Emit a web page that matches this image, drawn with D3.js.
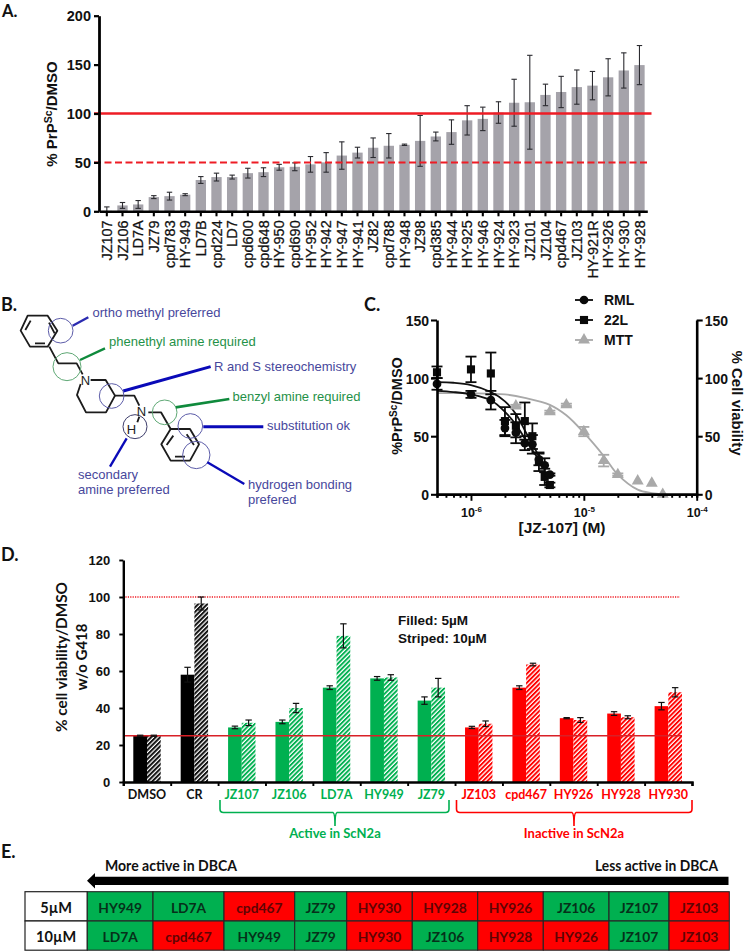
<!DOCTYPE html>
<html><head><meta charset="utf-8">
<script src="https://cdn.jsdelivr.net/npm/d3@7"></script>
<style>
html,body{margin:0;padding:0;background:#fff}
svg{display:block}
text{font-family:"Liberation Sans",Arial,sans-serif}
.cal{font-family:Lato,"Open Sans",sans-serif}
</style></head><body>
<svg id="c" width="745" height="951"></svg>
<script>
// Panel A
const aNames=["JZ107","JZ106","LD7A","JZ79","cpd783","HY-949","LD7B","cpd224","LD7","cpd600","cpd648","HY-950","cpd690","HY-952","HY-942","HY-947","HY-941","JZ82","cpd788","HY-948","JZ98","cpd385","HY-944","HY-925","HY-946","HY-924","HY-923","JZ101","JZ104","cpd467","JZ103","HY-921R","HY-926","HY-930","HY-928"];
const aValues=[0.5,6,7,14.5,15.5,17,32,35,35,39,40,45,45.5,48,50,57,60,65,67,68,72,76.5,81,93,94.5,101,111,111.5,119,122,127,128.5,137,144,149.5];
const aErrors=[4,3,4,1.5,4,1,3.5,4,2,5,4.5,3,4,8,10,14,5.5,10,12.5,0.7,26,4.5,12.5,15,12,11,24,48,11,16,17.5,14.5,19,18,20];
const aTicks=[0,50,100,150,200];
// Panel C
const cConc=[5e-7,1e-6,1.5e-6,2e-6,2.5e-6,3e-6,3.5e-6,4e-6,4.5e-6,5e-6];
const rmlValues=[95,86,81,57,53,44,43,30,25,17];
const rmlErrors=[5,3,8,7,9,6,8,5,6,1];
const l22Values=[105,107.5,104,63,59,63,50,28,15,8];
const l22Errors=[5,11,18,12,10,16,11,8,7,2];
const mttConc=[2.5e-6,5e-6,7e-6,1e-5,1.5e-5,2e-5,3e-5,4e-5,5e-5];
const mttValues=[76,71,77,54,29,17,11.5,9.5,0];
const mttErrors=[1,1,1,4,5,1,0,0,0];
const rmlFitX=[5e-7,7e-7,1e-6,1.5e-6,2e-6,2.5e-6,3e-6,3.5e-6,4e-6];
const rmlFitY=[89,88,86,81,71,60,48,38,30];
const l22FitX=[5e-7,7e-7,1e-6,1.5e-6,2e-6,2.5e-6,3e-6,3.5e-6,4e-6];
const l22FitY=[96.5,96,94,88,80,69,55,43,33];
const mttFitX=[5e-7,1e-6,2e-6,3e-6,5e-6,7e-6,1e-5,1.5e-5,2e-5,3e-5,4e-5,5e-5];
const mttFitY=[87,87,86,83,77,68,53,33,17,4,1,0];
const cTicks=[0,50,100,150];
const cLegend=["RML","22L","MTT"];
// Panel D
const dNames=["DMSO","CR","JZ107","JZ106","LD7A","HY949","JZ79","JZ103","cpd467","HY926","HY928","HY930"];
const dFilled=[25,58,29.5,32.5,51,56,44,29.5,51,34.5,37,41];
const dFilledErr=[0.3,4,0.7,1,1,1,2,0.6,1,0.3,1,2];
const dStriped=[25,96.5,32,40,79,56.5,51,31.5,63.5,33.5,35,48.5];
const dStripedErr=[0.3,3.5,1.5,2.5,6.5,1.5,5,1.5,0.7,1.3,0.8,2.5];
const dGroups=["k","k","g","g","g","g","g","r","r","r","r","r"];
const dTicks=[0,20,40,60,80,100,120];
// Panel E
const eRows=["5µM","10µM"];
const eRow5=["HY949","LD7A","cpd467","JZ79","HY930","HY928","HY926","JZ106","JZ107","JZ103"];
const eRow10=["LD7A","cpd467","HY949","JZ79","HY930","JZ106","HY928","HY926","JZ107","JZ103"];
const eActive=["HY949","LD7A","JZ79","JZ106","JZ107"];

const GREEN="#00b050",RED="#ff0000";
const svg=d3.select("#c");
const defs=svg.append("defs");
[["k","#111"],["g",GREEN],["r",RED]].forEach(([id,col])=>{
  const p=defs.append("pattern").attr("id","h"+id).attr("patternUnits","userSpaceOnUse").attr("width",3.2).attr("height",3.2).attr("patternTransform","rotate(-45)");
  p.append("rect").attr("width",3.2).attr("height",3.2).attr("fill","#fff");
  p.append("rect").attr("width",3.2).attr("height",id==="k"?2.0:1.9).attr("fill",col);
});
function panel(t,x,y,fs){svg.append("text").attr("class","cal").attr("x",x).attr("y",y).attr("font-size",fs||18).attr("font-weight",700).attr("fill","#111").text(t);}
panel("A.",2,17,16.5);panel("B.",1,311);panel("C.",364,311);panel("D.",1,561);panel("E.",1,858);
function styleAxis(g,w,fs,weight,cls){
  g.selectAll("path.domain").attr("stroke","#000").attr("stroke-width",w);
  g.selectAll(".tick line").attr("stroke","#000").attr("stroke-width",w*0.8);
  g.selectAll("text").attr("fill","#111").attr("font-size",fs).attr("font-weight",weight).attr("font-family",cls?"Lato,'Open Sans',sans-serif":"'Liberation Sans',Arial,sans-serif");
}
// ===== A
{
  const x=d3.scaleBand().domain(aNames).range([99,647.3]).paddingInner(0.34).paddingOuter(0.17);
  const y=d3.scaleLinear().domain([0,200]).range([211.3,15.7]);
  svg.append("g").selectAll("rect").data(aNames).join("rect")
    .attr("x",d=>x(d)).attr("width",x.bandwidth()).attr("y",(d,i)=>y(aValues[i])).attr("height",(d,i)=>y(0)-y(aValues[i])).attr("fill","#a5a3aa");
  const e=svg.append("g").attr("stroke","#2b2b30").attr("stroke-width",1.1);
  aNames.forEach((n,i)=>{
    const c=x(n)+x.bandwidth()/2,lo=Math.max(0,aValues[i]-aErrors[i]),hi=aValues[i]+aErrors[i];
    e.append("line").attr("x1",c).attr("x2",c).attr("y1",y(lo)).attr("y2",y(hi));
    e.append("line").attr("x1",c-2.7).attr("x2",c+2.7).attr("y1",y(hi)).attr("y2",y(hi));
    if(aValues[i]-aErrors[i]>0)e.append("line").attr("x1",c-2.7).attr("x2",c+2.7).attr("y1",y(lo)).attr("y2",y(lo));
  });
  svg.append("line").attr("x1",94).attr("x2",651.5).attr("y1",y(100)).attr("y2",y(100)).attr("stroke","#ee1c25").attr("stroke-width",2.4);
  svg.append("line").attr("x1",94).attr("x2",650).attr("y1",y(50)).attr("y2",y(50)).attr("stroke","#ee1c25").attr("stroke-width",2).attr("stroke-dasharray","7 3.5");
  const gx=svg.append("g").attr("transform",`translate(0,${y(0)})`).call(d3.axisBottom(x).tickSize(5).tickSizeOuter(0));
  styleAxis(gx,2.6,14.5,400);
  gx.selectAll("text").attr("transform","rotate(-90)").attr("text-anchor","end").attr("x",-9).attr("y",0).attr("dy","0.36em").attr("stroke","#111").attr("stroke-width",0.25);
  const gy=svg.append("g").attr("transform","translate(99,0)").call(d3.axisLeft(y).tickValues(aTicks).tickSize(5).tickSizeOuter(0));
  styleAxis(gy,2.8,14.5,700);
  gy.selectAll("text").attr("x",-8).attr("dy","0.36em");
  const t=svg.append("text").attr("transform","translate(57,114) rotate(-90)").attr("text-anchor","middle").attr("font-size",15).attr("font-weight",700).attr("fill","#111");
  t.append("tspan").text("% PrP");t.append("tspan").attr("dy",-5).attr("font-size",10.5).text("Sc");t.append("tspan").attr("dy",5).text("/DMSO");
}
// ===== B
{
  const g=svg.append("g").attr("transform","translate(0,285) scale(0.3333)").attr("fill","none");
  const bond=d=>g.append("path").attr("d",d).attr("stroke","#1c1c1c").attr("stroke-width",5.5).attr("stroke-linejoin","round");
  bond("M83 92L143 92L172 137L143 185L90 185L62 137Z");
  bond("M92 107L76 135M105 175L135 175M147 113L164 145");
  bond("M148 185L175 235L230 235L248 268");
  bond("M242 297L231 330L258 382L318 382L345 332L317 285L272 285");
  bond("M345 332L403 332L418 362");
  bond("M445 382L483 382L512 432");
  bond("M418 395L412 412");
  bond("M512 432L570 432L597 478L570 527L512 527L484 478Z");
  bond("M520 452L500 480M525 515L555 515M560 448L582 480");
  const circ=(x,y,r,c)=>g.append("circle").attr("cx",x).attr("cy",y).attr("r",r).attr("stroke",c).attr("stroke-width",3);
  circ(182,137,37,"#5b5ba8");circ(201,245,42,"#5ea874");circ(335,333,37,"#5b5ba8");circ(494,382,37,"#5ea874");circ(571,423,37,"#5b5ba8");circ(589,510,41,"#5b5ba8");circ(405,425,36,"#3d3d6a");
  const con=(d,c,w)=>g.append("path").attr("d",d).attr("stroke",c).attr("stroke-width",w);
  con("M218 122L265 97","#2a2ab0",7);
  con("M240 225L315 190","#0f8a3c",7);
  con("M370 318L632 245","#0a0ab8",9);
  con("M527 367L688 342","#0f8a3c",8);
  con("M610 425L790 425","#0a0ab8",9);
  con("M622 532L733 597","#0a0ab8",7);
  con("M380 460L330 545","#0a0ab8",7);
  const lab=(x,y,s,c)=>svg.append("text").attr("x",x).attr("y",y).attr("font-size",13).attr("fill",c).text(s);
  const BL="#47479c",GR="#1f9148";
  lab(92.5,317,"ortho methyl preferred",BL);
  lab(109,346,"phenethyl amine required",GR);
  lab(214,371,"R and S stereochemistry",BL);
  lab(232.5,401,"benzyl amine required",GR);
  lab(267,430,"substitution ok",BL);
  lab(78,479,"secondary",BL);
  lab(78,494,"amine preferred",BL);
  lab(248,489,"hydrogen bonding",BL);
  lab(248,504,"prefered",BL);
  const at=(x,y,s,fs)=>svg.append("text").attr("x",x).attr("y",y).attr("text-anchor","middle").attr("font-size",fs).attr("fill","#222").text(s);
  at(85.5,385,"N",13);at(141.5,416,"N",13);at(131.5,434,"H",13);
}
// ===== C
{
  const x=d3.scaleLog().domain([5e-7,1e-4]).range([437,696.7]);
  const y=d3.scaleLinear().domain([0,150]).range([494.3,320]);
  const line=d3.line().curve(d3.curveCatmullRom).x(d=>x(d[0])).y(d=>y(d[1]));
  const zip=(a,b)=>a.map((v,i)=>[v,b[i]]);
  const fit=(a,b,c,w)=>svg.append("path").attr("d",line(zip(a,b))).attr("fill","none").attr("stroke",c).attr("stroke-width",w);
  fit(mttFitX,mttFitY,"#a9a9a9",1.8);
  fit(rmlFitX,rmlFitY,"#111",1.8);
  fit(l22FitX,l22FitY,"#111",1.8);
  const sym={c:d3.symbol(d3.symbolCircle,60)(),s:d3.symbol(d3.symbolSquare,66)(),t:d3.symbol(d3.symbolTriangle,62)()};
  const series=(xs,vs,es,c,s)=>{
    const g=svg.append("g");
    xs.forEach((v,i)=>{
      const px=x(v);
      if(es[i]>0){
        g.append("line").attr("x1",px).attr("x2",px).attr("y1",y(vs[i]-es[i])).attr("y2",y(vs[i]+es[i])).attr("stroke",c).attr("stroke-width",1.8);
        [vs[i]-es[i],vs[i]+es[i]].forEach(q=>g.append("line").attr("x1",px-5.5).attr("x2",px+5.5).attr("y1",y(q)).attr("y2",y(q)).attr("stroke",c).attr("stroke-width",1.8));
      }
      g.append("path").attr("d",s).attr("transform",`translate(${px},${y(vs[i])})`).attr("fill",c);
    });
  };
  series(mttConc,mttValues,mttErrors,"#a9a9a9",sym.t);
  series(cConc,l22Values,l22Errors,"#0a0a0a",sym.s);
  series(cConc,rmlValues,rmlErrors,"#0a0a0a",sym.c);
  const minor=[];for(let d=-7;d<-4;d++)for(let m=1;m<10;m++){const v=m*Math.pow(10,d);if(v>=5e-7&&v<=1e-4&&m!==1)minor.push(v);}
  const gm=svg.append("g").attr("transform",`translate(0,${y(0)})`).call(d3.axisBottom(x).tickValues(minor).tickSize(3.5).tickFormat(""));
  styleAxis(gm,2.4,12,700);
  const majors=[1e-6,1e-5,1e-4];
  const gx=svg.append("g").attr("transform",`translate(0,${y(0)})`).call(d3.axisBottom(x).tickValues(majors).tickSize(6.5).tickSizeOuter(0).tickFormat(""));
  styleAxis(gx,2.4,12,700);
  gx.selectAll(".tick").append("text").attr("y",23).attr("text-anchor","middle").attr("fill","#111").attr("font-size",12.5).attr("font-weight",700)
    .each(function(d){const t=d3.select(this);t.append("tspan").text("10");t.append("tspan").attr("dy",-5).attr("font-size",8).text("-"+Math.round(-Math.log10(d)));});
  const gl=svg.append("g").attr("transform","translate(437,0)").call(d3.axisLeft(y).tickValues(cTicks).tickSize(6).tickSizeOuter(0));
  styleAxis(gl,2.6,14,700);gl.selectAll("text").attr("x",-8).attr("dy","0.36em");
  const gr=svg.append("g").attr("transform","translate(696.7,0)").call(d3.axisRight(y).tickValues(cTicks).tickSize(6).tickSizeOuter(0));
  styleAxis(gr,2.6,14,700);gr.selectAll("text").attr("x",8).attr("dy","0.36em");
  const t=svg.append("text").attr("transform","translate(402,406) rotate(-90)").attr("text-anchor","middle").attr("font-size",14.5).attr("font-weight",700).attr("fill","#111");
  t.append("tspan").text("%PrP");t.append("tspan").attr("dy",-5).attr("font-size",10).text("Sc");t.append("tspan").attr("dy",5).text("/DMSO");
  svg.append("text").attr("transform","translate(732,403) rotate(90)").attr("text-anchor","middle").attr("font-size",15).attr("font-weight",700).attr("fill","#111").text("% Cell viability");
  svg.append("text").attr("x",562).attr("y",533).attr("text-anchor","middle").attr("font-size",15.5).attr("font-weight",700).attr("fill","#111").text("[JZ-107] (M)");
  const ly=d3.scalePoint().domain(cLegend).range([300,340]);
  const cols=["#0a0a0a","#0a0a0a","#a9a9a9"],sy=[sym.c,sym.s,sym.t];
  cLegend.forEach((n,i)=>{
    svg.append("line").attr("x1",575).attr("x2",593).attr("y1",ly(n)).attr("y2",ly(n)).attr("stroke",cols[i]).attr("stroke-width",1.8);
    svg.append("path").attr("d",sy[i]).attr("transform",`translate(584,${ly(n)})`).attr("fill",cols[i]);
    svg.append("text").attr("x",604).attr("y",ly(n)+5).attr("font-size",14).attr("font-weight",700).attr("fill","#111").text(n);
  });
}
// ===== D
{
  const x0=d3.scaleBand().domain(dNames).range([123.3,692]);
  const y=d3.scaleLinear().domain([0,120]).range([782,560]);
  const bw=13.7;
  const col={k:"#000",g:GREEN,r:RED};
  dNames.forEach((n,i)=>{
    const c=x0(n)+x0.bandwidth()/2,gk=dGroups[i];
    svg.append("rect").attr("x",c-bw).attr("width",bw).attr("y",y(dFilled[i])).attr("height",y(0)-y(dFilled[i])).attr("fill",col[gk]);
    svg.append("rect").attr("x",c).attr("width",bw).attr("y",y(dStriped[i])).attr("height",y(0)-y(dStriped[i])).attr("fill",`url(#h${gk})`);
  });
  svg.append("line").attr("x1",123).attr("x2",681.5).attr("y1",y(25)).attr("y2",y(25)).attr("stroke","#d92027").attr("stroke-width",1.5);
  svg.append("line").attr("x1",123).attr("x2",680).attr("y1",y(100)).attr("y2",y(100)).attr("stroke","#f01a22").attr("stroke-width",1.3).attr("stroke-dasharray","1.2 1.2");
  dNames.forEach((n,i)=>{
    const c=x0(n)+x0.bandwidth()/2;
    [[c-bw/2,dFilled[i],dFilledErr[i]],[c+bw/2,dStriped[i],dStripedErr[i]]].forEach(([px,v,er])=>{
      const g=svg.append("g").attr("stroke","#111").attr("stroke-width",1.2);
      g.append("line").attr("x1",px).attr("x2",px).attr("y1",y(v-er)).attr("y2",y(v+er));
      [v-er,v+er].forEach(q=>g.append("line").attr("x1",px-3.2).attr("x2",px+3.2).attr("y1",y(q)).attr("y2",y(q)));
    });
  });
  const gx=svg.append("g").attr("transform",`translate(0,${y(0)})`).call(d3.axisBottom(d3.scaleLinear().domain([0,12]).range([123.3,692])).ticks(12).tickSize(4).tickFormat(""));
  styleAxis(gx,2.4,12,700,true);
  const gy=svg.append("g").attr("transform","translate(123.3,0)").call(d3.axisLeft(y).tickValues(dTicks).tickSize(4).tickSizeOuter(0));
  styleAxis(gy,2.4,13,700,true);gy.selectAll("text").attr("x",-13).attr("dy","0.36em");
  const tcol={k:"#111",g:GREEN,r:RED};
  svg.append("g").selectAll("text").data(dNames).join("text").attr("class","cal")
    .attr("x",d=>x0(d)+x0.bandwidth()/2).attr("y",799).attr("text-anchor","middle").attr("font-size",12.5).attr("font-weight",700)
    .attr("fill",(d,i)=>tcol[dGroups[i]]).text(d=>d);
  [["% cell viability/DMSO",67,150],["w/o G418",87,67]].forEach(([s,bx,len])=>{
    svg.append("text").attr("class","cal").attr("transform",`translate(${bx},657) rotate(-90)`).attr("text-anchor","middle").attr("font-size",15.5).attr("font-weight",700).attr("fill","#111").attr("textLength",len).attr("lengthAdjust","spacingAndGlyphs").text(s);
  });
  svg.append("text").attr("x",398).attr("y",625).attr("font-size",13.5).attr("font-weight",700).attr("fill","#111").text("Filled: 5µM");
  svg.append("text").attr("x",398).attr("y",643).attr("font-size",13.5).attr("font-weight",700).attr("fill","#111").text("Striped: 10µM");
  const brace=(a,b,s,c,txt)=>{
    svg.append("path").attr("d",`M${a} 800L${a} 809Q${a} 812.5 ${a+3.5} 812.5L${s-2} 812.5Q${s} 813 ${s} 826Q${s} 813 ${s+2} 812.5L${b-3.5} 812.5Q${b} 812.5 ${b} 809L${b} 800`).attr("fill","none").attr("stroke",c).attr("stroke-width",1.6);
    svg.append("text").attr("class","cal").attr("x",s).attr("y",838).attr("text-anchor","middle").attr("font-size",13).attr("font-weight",700).attr("fill",c).text(txt);
  };
  brace(220,449,335,GREEN,"Active in ScN2a");
  brace(456.5,692,574,RED,"Inactive in ScN2a");
}
// ===== E
{
  const edges=[87.3,153,224,294.7,346.7,412.3,477.7,543.3,609,669,729.3];
  const tops=[891.7,921],h=29.2;
  const txt=(x,y,s,c,fs)=>svg.append("text").attr("class","cal").attr("x",x).attr("y",y).attr("text-anchor","middle").attr("font-size",fs).attr("font-weight",700).attr("fill",c).text(s);
  [eRow5,eRow10].forEach((row,r)=>{
    svg.append("rect").attr("x",25).attr("y",tops[r]).attr("width",edges[0]-25).attr("height",h).attr("fill","#fff").attr("stroke","#222").attr("stroke-width",1.2);
    txt((25+edges[0])/2,tops[r]+21,eRows[r],"#111",14.5);
    row.forEach((n,i)=>{
      const on=eActive.includes(n);
      svg.append("rect").attr("x",edges[i]).attr("y",tops[r]).attr("width",edges[i+1]-edges[i]).attr("height",h).attr("fill",on?GREEN:RED).attr("stroke","#262626").attr("stroke-width",1.1);
      txt((edges[i]+edges[i+1])/2,tops[r]+21,n,on?"#06301a":"#5f0404",13.8);
    });
  });
  const head=(x,a,s)=>svg.append("text").attr("class","cal").attr("x",x).attr("y",871).attr("text-anchor",a).attr("font-size",15).attr("font-weight",700).attr("fill","#111").attr("textLength",s==="L"?132:123).attr("lengthAdjust","spacingAndGlyphs");
  head(105,"start","L").text("More active in DBCA");
  head(595,"start","R").text("Less active in DBCA");
  svg.append("path").attr("d","M87 880.8L95 873L95 876.7L728.5 876.7L728.5 885L95 885L95 888.5Z").attr("fill","#000");
}
</script>
</body></html>
